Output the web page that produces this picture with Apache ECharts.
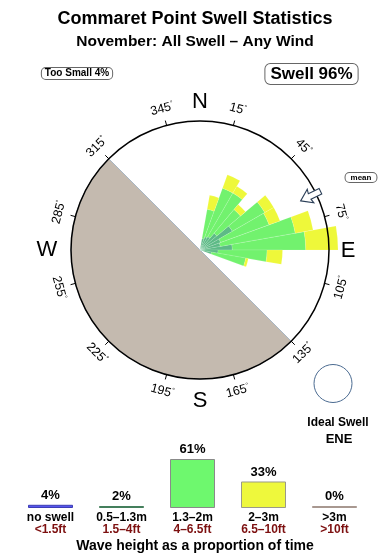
<!DOCTYPE html>
<html><head><meta charset="utf-8">
<script src="https://cdn.jsdelivr.net/npm/echarts@6/dist/echarts.min.js"></script>
<style>html,body{margin:0;padding:0;background:#fff}#c{width:390px;height:560px}</style>
</head><body><div id="c"></div>
<script>
// ---- data ----
const dirBins = Array.from({length:36}, (_, i) => String(i * 10));
// rose segment lengths per 10° direction bin (0-10, 10-20, ...), radial units (10 = ring)
const rose05to13 = [0,0.9,1.1,1.2,1.7,2.9,1.7,1.6,2.5,1.4,0.9,0,0,0,0,0,0,0,0,0,0,0,0,0,0,0,0,0,0,0,0,0,0,0,0,0];
const rose13to2  = [0,2.3,4.0,3.9,2.4,2.9,4.0,5.9,5.7,3.8,2.7,0,0,0,0,0,0,0,0,0,0,0,0,0,0,0,0,0,0,0,0,0,0,0,0,0];
const rose2to3   = [0,1.1,1.1,0.6,0.5,0.8,0.9,1.4,2.5,1.2,0.2,0,0,0,0,0,0,0,0,0,0,0,0,0,0,0,0,0,0,0,0,0,0,0,0,0];
const degreeTicks = [15,45,75,105,135,165,195,225,255,285,315,345];
const compassLabels = ['N','E','S','W'];
const sizeNames = ['no swell','0.5–1.3m','1.3–2m','2–3m','>3m'];
const sizeFeet = ['<1.5ft','1.5–4ft','4–6.5ft','6.5–10ft','>10ft'];
const sizePercent = [4,2,61,33,0];
const meanDirection = 64;

// ---- styles ----
const FONT = '"Liberation Sans", Arial, sans-serif';
const legendFill = ['#5656ee','#4f9c6c','#6ef86e','#eef83c','#c8b8b0'];
const legendBorder = ['#3c3cb4','#447f5c','#8a8a8a','#9a9a88','#a89890'];
const CX = 200, CY = 250, R = 129;

const chart = echarts.init(document.getElementById('c'));
const g = [];
// land half-disc (315° -> 135° via west)
g.push({type:'sector', z:0, silent:true,
  shape:{cx:CX, cy:CY, r:R, r0:0, startAngle:Math.PI/4, endAngle:Math.PI*5/4, clockwise:true},
  style:{fill:'#c4baaf', stroke:'#a9b7c4', lineWidth:1}});
function txt(x, y, text, opt) {
  g.push(Object.assign({type:'text', z:20, x:x, y:y, silent:true,
    style:Object.assign({text:text, textAlign:'center', textVerticalAlign:'middle', fill:'#000', font:'12px ' + FONT}, opt && opt.style || {})},
    opt && opt.el || {}));
}
txt(195, 19, 'Commaret Point Swell Statistics', {style:{font:'bold 18px ' + FONT}});
txt(195, 42, 'November: All Swell – Any Wind', {style:{font:'bold 15.5px ' + FONT}});
txt(77, 73.5, 'Too Small 4%', {style:{font:'bold 10px ' + FONT, backgroundColor:'#fff', borderColor:'#666', borderWidth:1, borderRadius:4, padding:[1,3,0,3]}});
txt(311.5, 74, 'Swell 96%', {style:{font:'bold 17px ' + FONT, backgroundColor:'#fff', borderColor:'#666', borderWidth:1, borderRadius:5, padding:[2,5,1,5]}});
txt(361, 177.5, 'mean', {style:{font:'bold 8px ' + FONT, backgroundColor:'#fff', borderColor:'#666', borderWidth:1, borderRadius:4, padding:[1,5,0,5]}});
// compass letters
const compassPos = [[200,102],[348,251],[200,401],[47,250]];
compassLabels.forEach((l, i) => txt(compassPos[i][0], compassPos[i][1], l, {style:{font:'22px ' + FONT}}));
// degree labels
degreeTicks.forEach(t => {
  const a = t * Math.PI / 180, LR = 146;
  const x = CX + LR * Math.sin(a), y = CY - LR * Math.cos(a);
  let rot = (t <= 90 || t >= 270) ? (t > 180 ? t - 360 : t) : t - 180;
  g.push({type:'text', z:20, x:x, y:y, rotation:-rot * Math.PI / 180, silent:true,
    style:{text:'{n|' + t + '}{d|°}', textAlign:'center', textVerticalAlign:'middle',
      rich:{n:{fontSize:12.5, fontFamily:FONT, fill:'#000'}, d:{fontSize:7, fontFamily:FONT, fill:'#000', verticalAlign:'top'}}}});
});
// mean arrow (hollow) pointing toward centre
(function(){
  const a = meanDirection * Math.PI / 180;
  const u = [Math.sin(a), -Math.cos(a)], p = [Math.cos(a), Math.sin(a)];
  const pt = (r, w) => [CX + r*u[0] + w*p[0], CY + r*u[1] + w*p[1]];
  const pts = [pt(112,0), pt(123,7.5), pt(122,3), pt(134,3), pt(134,-3), pt(122,-3), pt(123,-7.5)];
  g.push({type:'polygon', z:15, silent:true, shape:{points:pts}, style:{fill:'#fff', stroke:'#2b3f58', lineWidth:1.1}});
})();
// ideal swell
g.push({type:'circle', z:15, silent:true, shape:{cx:333, cy:383.5, r:19}, style:{fill:'#fff', stroke:'#4a6a90', lineWidth:1}});
txt(338, 423, 'Ideal Swell', {style:{font:'bold 12px ' + FONT}});
txt(339, 439, 'ENE', {style:{font:'bold 13px ' + FONT}});
txt(195, 546, 'Wave height as a proportion of time', {style:{font:'bold 14px ' + FONT}});

const roseDefs = [[rose05to13,'#5dba86'],[rose13to2,'#72f26e'],[rose2to3,'#eef83a']];
const series = roseDefs.map(d => ({type:'bar', coordinateSystem:'polar', polarIndex:0, stack:'rose',
  data:d[0], barWidth:'100%', barGap:'0%', barCategoryGap:'0%', clip:false, silent:true, z:2,
  itemStyle:{color:d[1], borderColor:'rgba(255,255,255,0.25)', borderWidth:0.5}}));
series.push({type:'bar', xAxisIndex:0, yAxisIndex:0, barWidth:45, barMinHeight:2, silent:true,
  data:sizePercent.map((v,i) => ({value:v, itemStyle:{color:legendFill[i], borderColor:legendBorder[i], borderWidth:1}})),
  label:{show:true, position:'top', distance:3, formatter:'{c}%', fontSize:13, fontWeight:'bold', color:'#000', fontFamily:FONT}});

chart.setOption({
  animation:false,
  textStyle:{fontFamily:FONT},
  polar:{center:[CX,CY], radius:R},
  angleAxis:{type:'category', data:dirBins, startAngle:90, clockwise:true, boundaryGap:true, z:10,
    axisLine:{show:true, lineStyle:{color:'#000', width:1.5}},
    axisTick:{show:true, alignWithLabel:true, interval:(i) => i % 3 === 1, length:5, lineStyle:{color:'#000', width:1}},
    axisLabel:{show:false}, splitLine:{show:false}, splitArea:{show:false}},
  radiusAxis:{type:'value', min:0, max:10, show:false, axisLine:{show:false}, axisTick:{show:false}, axisLabel:{show:false}, splitLine:{show:false}},
  grid:{left:15, width:355, top:459, height:49, containLabel:false},
  xAxis:{type:'category', data:sizeNames, axisLine:{show:false}, axisTick:{show:false},
    axisLabel:{interval:0, margin:4, formatter:(v, i) => '{a|' + v + '}\n{b|' + sizeFeet[i] + '}',
      rich:{a:{fontSize:12, fontWeight:'bold', color:'#000', lineHeight:12, fontFamily:FONT},
            b:{fontSize:12, fontWeight:'bold', color:'#7d1010', lineHeight:12, fontFamily:FONT}}}},
  yAxis:{type:'value', min:0, max:61, show:false, splitLine:{show:false}},
  graphic:{elements:g},
  series:series
});
</script></body></html>
